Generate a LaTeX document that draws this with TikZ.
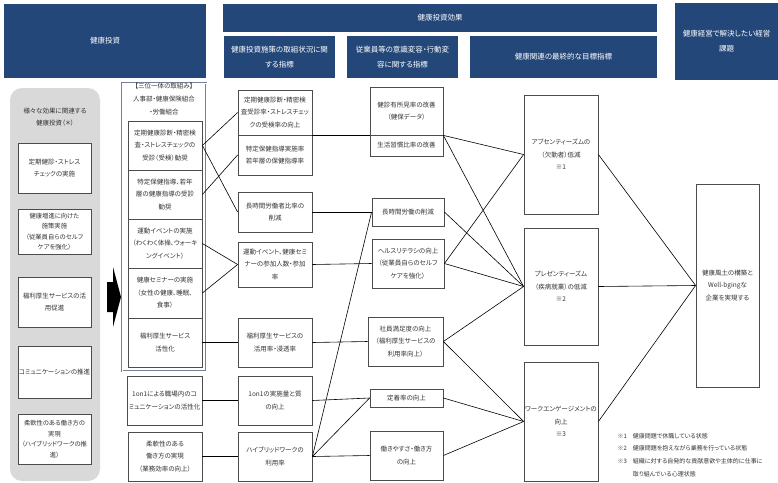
\documentclass[tikz,border=0pt]{standalone}
\usepackage{fontspec}
\setmainfont{Noto Sans CJK JP}[RawFeature=+palt]
\usepackage{xcolor}
\usepackage{tikz}
\definecolor{hdrblue}{RGB}{36,71,122}
\definecolor{grpgray}{RGB}{217,217,217}
\definecolor{orgline}{RGB}{118,128,150}

\begin{document}
\begin{tikzpicture}[
  x=1pt, y=-1pt,
  font=\fontsize{6.5}{12.5}\selectfont,
  sz/.style 2 args={minimum width=#1, minimum height=#2},
  box/.style={draw=black!70, line width=0.8pt, fill=white, align=center, inner sep=0pt, text=black!80},
  hdr/.style={fill=hdrblue, align=center, inner sep=0pt, text=white, font=\fontsize{7.5}{15}\selectfont},
  tight/.style={font=\fontsize{6.3}{10.5}\selectfont},
  ln/.style={draw=black, line width=0.6pt}
]
  \useasboundingbox (0,0) rectangle (778,482);

  \node[hdr, sz={202}{74}] (inv) at (105,41) {健康投資};
  \node[hdr, sz={434}{28}] (eff) at (440,18) {健康投資効果};
  \node[hdr, sz={111}{42}] (eff1) at (279.5,57) {健康投資施策の取組状況に関\\する指標};
  \node[hdr, sz={111}{42}] (eff2) at (402.5,57) {従業員等の意識変容・行動変\\容に関する指標};
  \node[hdr, sz={187}{42}] (eff3) at (563.5,57) {健康関連の最終的な目標指標};
  \node[hdr, sz={103}{77}] (goal) at (726.5,41.5) {健康経営で解決したい経営\\課題};

  \node[fill=grpgray, rounded corners=12pt, inner sep=0pt, sz={90}{393}] (grp) at (55,284.5) {};
  \node[align=center, text=black!80] (grpt) at (55,117) {様々な効果に関連する\\健康投資（＊）};
  \node[box, sz={73}{50}] (L1) at (54.5,168) {定期健診・ストレス\\チェックの実施};
  \node[box, tight, sz={73}{45}] (L2) at (54.5,231.5) {健康増進に向けた\\施策実施\\（従業員自らのセルフ\\ケアを強化）};
  \node[box, sz={73}{50}] (L3) at (54.5,302) {福利厚生サービスの活\\用促進};
  \node[box, sz={73}{52}] (L4) at (54.5,372) {コミュニケーションの推進};
  \node[box, tight, sz={73}{50}] (L5) at (54.5,439) {柔軟性のある働き方の\\実現\\（ハイブリッドワークの推\\進）};

  \fill[black] (107,282) -- (113,282) -- (113,267) -- (121,297) -- (113,327) -- (113,312) -- (107,312) -- cycle;

  \node[draw=orgline, double, double distance=1pt, line width=0.5pt, fill=white, inner sep=0pt, sz={84}{288}] (org) at (164,227) {};
  \node[align=center, text=black!80, font=\fontsize{6.5}{13}\selectfont] (orgt) at (164,99) {【三位一体の取組み】\\人事部・健康保険組合\\・労働組合};
  \node[box, sz={74}{49}] (A) at (165,145.5) {定期健康診断・精密検\\査・ストレスチェックの\\受診（受検）勧奨};
  \node[box, sz={74}{49}] (B) at (165,194.5) {特定保健指導、若年\\層の健康指導の受診\\勧奨};
  \node[box, sz={74}{49}] (C) at (165,243.5) {運動イベントの実施\\（わくわく体操、ウォーキ\\ングイベント）};
  \node[box, sz={74}{50}] (D) at (165,293) {健康セミナーの実施\\（女性の健康、睡眠、\\食事）};
  \node[box, sz={74}{49}] (E) at (165,342.5) {福利厚生サービス\\活性化};
  \node[box, sz={75}{49}] (F) at (164.5,400.5) {1on1による職場内のコ\\ミュニケーションの活性化};
  \node[box, sz={74}{49}] (G) at (165,456.5) {柔軟性のある\\働き方の実現\\（業務効率の向上）};

  \node[box, sz={74}{45}] (H) at (275,112.5) {定期健康診断・精密検\\査受診率・ストレスチェッ\\クの受検率の向上};
  \node[box, sz={74}{40}] (I) at (275,155) {特定保健指導実施率\\若年層の保健指導率};
  \node[box, sz={74}{40}] (J) at (275,212) {長時間労働者比率の\\削減};
  \node[box, sz={74}{45}] (K) at (275,264.5) {運動イベント、健康セミ\\ナーの参加人数・参加\\率};
  \node[box, sz={74}{49}] (L) at (275,342.5) {福利厚生サービスの\\活用率・浸透率};
  \node[box, sz={74}{49}] (M) at (275,400.5) {1on1の実施量と質\\の向上};
  \node[box, sz={74}{49}] (N) at (275,456.5) {ハイブリッドワークの\\利用率};

  \node[box, sz={73}{48}] (O) at (406.5,111) {健診有所見率の改善\\（健保データ）};
  \node[box, sz={73}{21}] (P) at (406.5,145.5) {生活習慣比率の改善};
  \node[box, sz={72}{28}] (Q) at (408,212) {長時間労働の削減};
  \node[box, sz={72}{49}] (R) at (408,263.5) {ヘルスリテラシの向上\\（従業員自らのセルフ\\ケアを強化）};
  \node[box, sz={75}{49}] (S) at (405.5,341.5) {社員満足度の向上\\（福利厚生サービスの\\利用率向上）};
  \node[box, sz={73}{18}] (T) at (406.5,398) {定着率の向上};
  \node[box, sz={73}{49}] (U) at (406.5,455.5) {働きやすさ・働き方\\の向上};

  \node[box, sz={74}{119}] (V) at (561,154.5) {アブセンティーズムの\\（欠勤者）低減\\※1};
  \node[box, sz={74}{117}] (W) at (561,286.5) {プレゼンティーズム\\（疾病就業）の低減\\※2};
  \node[box, sz={74}{119}] (X) at (561,421.5) {ワークエンゲージメントの\\向上\\※3};
  \node[box, sz={63}{203}] (Y) at (727.5,285.5) {健康風土の構築と\\Well-bgingな\\企業を実現する};

  \draw[ln] (A.east) -- (H.west);
  \draw[ln] (A.east) -- (J.west);
  \draw[ln] (B.east) -- (I.west);
  \draw[ln] (C.east) -- (K.west);
  \draw[ln] (D.east) -- (K.west);
  \draw[ln] (E.east) -- (L.west);
  \draw[ln] (F.east) -- (M.west);
  \draw[ln] (G.east) -- (N.west);
  \draw[ln] (H.south east) -- (O.south west);
  \draw[ln] (J.east) -- (Q.west);
  \draw[ln] (K.east) -- (R.west);
  \draw[ln] (L.east) -- (S.west);
  \draw[ln] (M.east) -- (T.west);
  \draw[ln] (N.east) -- (U.west);
  \draw[ln] (N.east) -- (T.west);
  \draw[ln] (N.east) -- (Q.west);
  \draw[ln] (O.south east) -- (V.west);
  \draw[ln] (O.south east) -- (W.west);
  \draw[ln] (Q.east) -- (W.west);
  \draw[ln] (R.east) -- (V.west);
  \draw[ln] (R.east) -- (W.west);
  \draw[ln] (S.east) -- (W.west);
  \draw[ln] (S.east) -- (X.west);
  \draw[ln] (T.east) -- (X.west);
  \draw[ln] (U.east) -- (X.west);
  \draw[ln] (V.east) -- (Y.west);
  \draw[ln] (W.east) -- (Y.west);
  \draw[ln] (X.east) -- (Y.west);

  \node[anchor=west, align=left, text=black!80, font=\fontsize{6}{12.7}\selectfont] (note) at (614,455)
        {※1　健康問題で休職している状態\\
         ※2　健康問題を抱えながら業務を行っている状態\\
         ※3　組織に対する自発的な貢献意欲や主体的に仕事に\\
         \phantom{※3　}取り組んでいる心理状態};
\end{tikzpicture}
\end{document}
